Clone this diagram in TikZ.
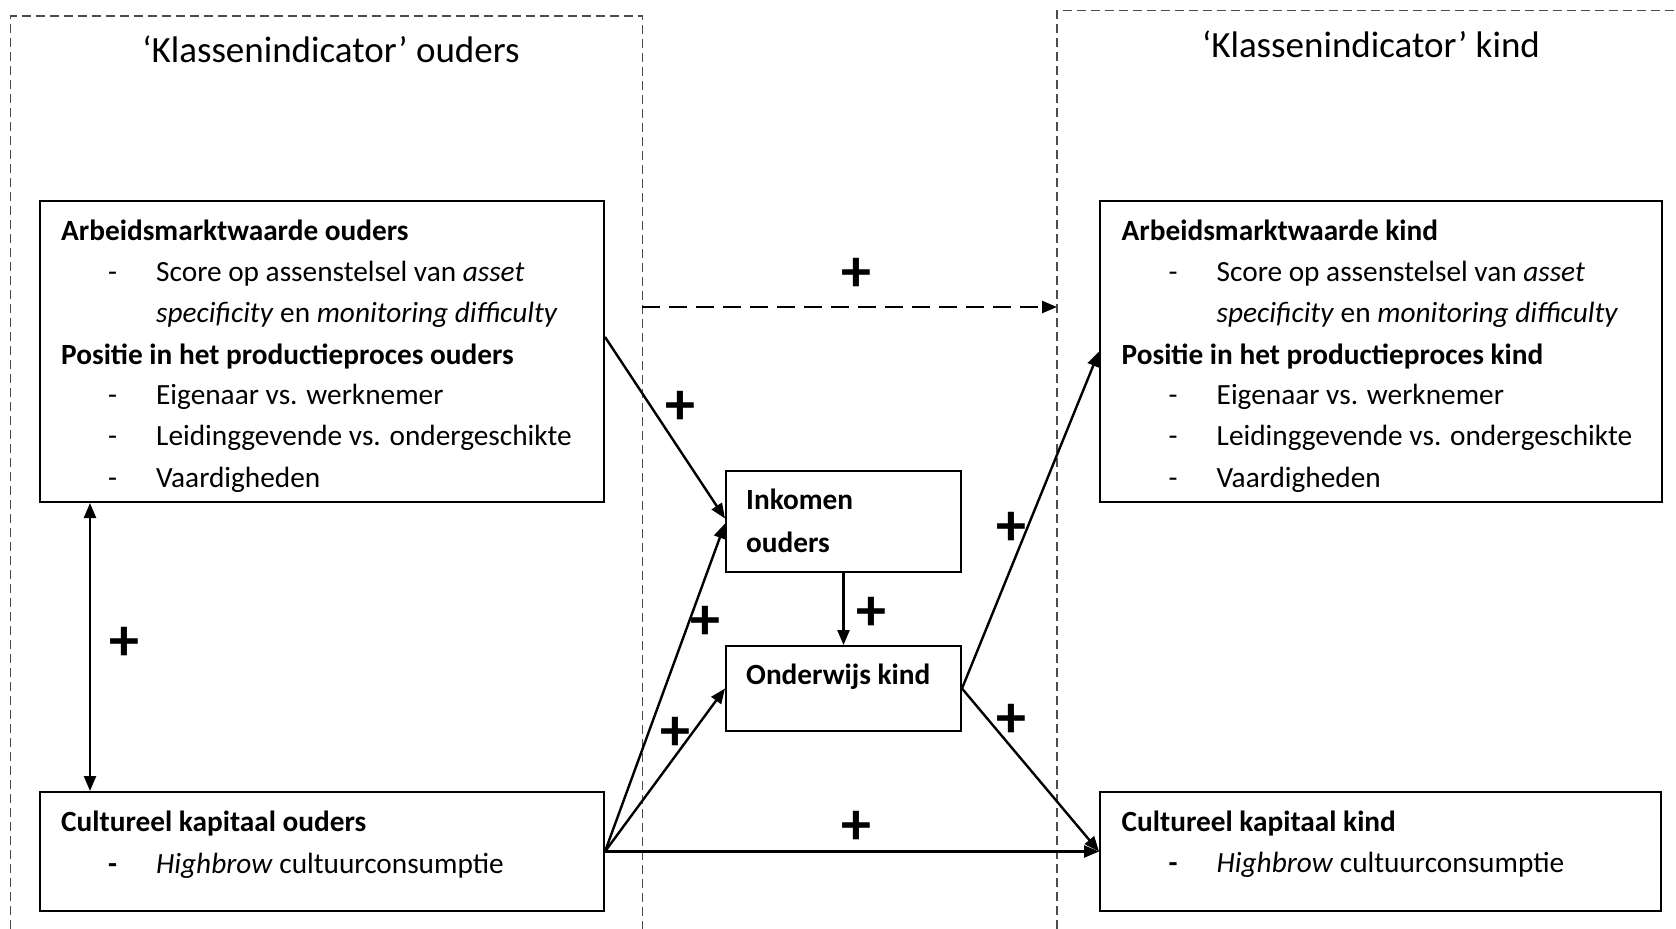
\documentclass[tikz,border=0pt]{standalone}
\usepackage{fontspec}
\setmainfont{Carlito}
\usetikzlibrary{arrows.meta,calc}
\begin{document}
\begin{tikzpicture}[x=1pt,y=-1pt,
 box/.style={draw,line width=2pt,rectangle,inner sep=0pt},
 frame/.style={draw=black!70,line width=1.3pt,dash pattern=on 9pt off 5pt},
 conn/.style={line width=2.4pt,-{Triangle[length=15pt,width=12pt]}},
 dconn/.style={conn,dash pattern=on 18pt off 9pt},
 txt/.style={anchor=mid west,inner sep=0pt,font=\fontsize{29.3}{35}\selectfont},
 hd/.style={txt,font=\fontsize{29.3}{35}\selectfont\bfseries},
 plus/.style={inner sep=0pt,font=\fontsize{60}{60}\selectfont\bfseries},
 title/.style={inner sep=0pt,font=\fontsize{37}{44}\selectfont}]
\useasboundingbox (0,0) rectangle (1676,929);
% frames
\draw[frame] (10.7,929) -- (10.7,16) -- (642.4,16) -- (642.4,929);
\draw[frame] (1057,929) -- (1057,10.7) -- (1680,10.7);
\coordinate (dL) at (642.4,307);
\coordinate (dR) at (1057,307);
\node[title] (t1) at (331,49) {‘Klassenindicator’ ouders};
\node[title] (t2) at (1371,44) {‘Klassenindicator’ kind};
% boxes
\node[box,minimum width=564.5pt,minimum height=301pt] (AO) at (321.75,351.5) {};
\node[box,minimum width=562pt,minimum height=301pt] (AK) at (1381,351.5) {};
\node[box,minimum width=564.5pt,minimum height=119pt] (CO) at (321.75,851.5) {};
\node[box,minimum width=561pt,minimum height=119pt] (CK) at (1380.5,851.5) {};
\node[box,minimum width=235pt,minimum height=101pt] (INK) at (843.5,521.5) {};
\node[box,minimum width=235pt,minimum height=85pt] (OND) at (843.5,688.5) {};
% AO text
\node[hd] (ao1) at (61,238) {Arbeidsmarktwaarde ouders};
\node[txt] (ao2d) at (108,279.5) {-};
\node[txt] (ao2) at (156,279.5) {Score op assenstelsel van \textit{asset}};
\node[txt] (ao3) at (156,320) {\textit{specificity} en \textit{monitoring difficulty}};
\node[hd] (ao4) at (61,362) {Positie in het productieproces ouders};
\node[txt] (ao5d) at (108,402.5) {-};
\node[txt] (ao5) at (156,402.5) {Eigenaar vs. werknemer};
\node[txt] (ao6d) at (108,443) {-};
\node[txt] (ao6) at (156,443) {Leidinggevende vs. ondergeschikte};
\node[txt] (ao7d) at (108,485) {-};
\node[txt] (ao7) at (156,485) {Vaardigheden};
% AK text
\node[hd] (ak1) at (1121.5,238) {Arbeidsmarktwaarde kind};
\node[txt] (ak2d) at (1168.5,279.5) {-};
\node[txt] (ak2) at (1216.5,279.5) {Score op assenstelsel van \textit{asset}};
\node[txt] (ak3) at (1216.5,320) {\textit{specificity} en \textit{monitoring difficulty}};
\node[hd] (ak4) at (1121.5,362) {Positie in het productieproces kind};
\node[txt] (ak5d) at (1168.5,402.5) {-};
\node[txt] (ak5) at (1216.5,402.5) {Eigenaar vs. werknemer};
\node[txt] (ak6d) at (1168.5,443) {-};
\node[txt] (ak6) at (1216.5,443) {Leidinggevende vs. ondergeschikte};
\node[txt] (ak7d) at (1168.5,485) {-};
\node[txt] (ak7) at (1216.5,485) {Vaardigheden};
% CO / CK text
\node[hd] (co1) at (61,829) {Cultureel kapitaal ouders};
\node[hd] (co2d) at (108,871) {-};
\node[txt] (co2) at (156,871) {\textit{Highbrow} cultuurconsumptie};
\node[hd] (ck1) at (1121.5,829) {Cultureel kapitaal kind};
\node[hd] (ck2d) at (1168.5,870) {-};
\node[txt] (ck2) at (1216.5,870) {\textit{Highbrow} cultuurconsumptie};
% middle text
\node[hd] (ink1) at (746,507) {Inkomen};
\node[hd] (ink2) at (746,550) {ouders};
\node[hd] (ond1) at (746,682) {Onderwijs kind};
% connectors
\draw[dconn] (dL) -- (dR);
\draw[conn] ($(AO.north east)!0.452!(AO.south east)$) -- ($(INK.west)+(0,-3)$);
\draw[conn] (CO.east) -- ($(INK.west)+(0,2)$);
\draw[conn] (CO.east) -- (OND.west);
\draw[conn] (INK.south) -- (OND.north);
\draw[conn] (OND.east) -- (AK.west);
\draw[conn] (OND.east) -- (CK.west);
\draw[conn] (CO.east) -- (CK.west);
\draw[conn,{Triangle[length=15pt,width=12pt]}-{Triangle[length=15pt,width=12pt]}] ($(AO.south west)+(51.5,0)$) -- ($(CO.north west)+(51.5,0)$);
% plus signs
\node[plus] (p1) at (856,274.5) {+};
\node[plus] (p2) at (680,408) {+};
\node[plus] (p3) at (705.5,623) {+};
\node[plus] (p4) at (675.5,734) {+};
\node[plus] (p5) at (871,614) {+};
\node[plus] (p6) at (1011,529) {+};
\node[plus] (p7) at (1011,721) {+};
\node[plus] (p8) at (856,828) {+};
\node[plus] (p9) at (124,644) {+};
\end{tikzpicture}
\end{document}
